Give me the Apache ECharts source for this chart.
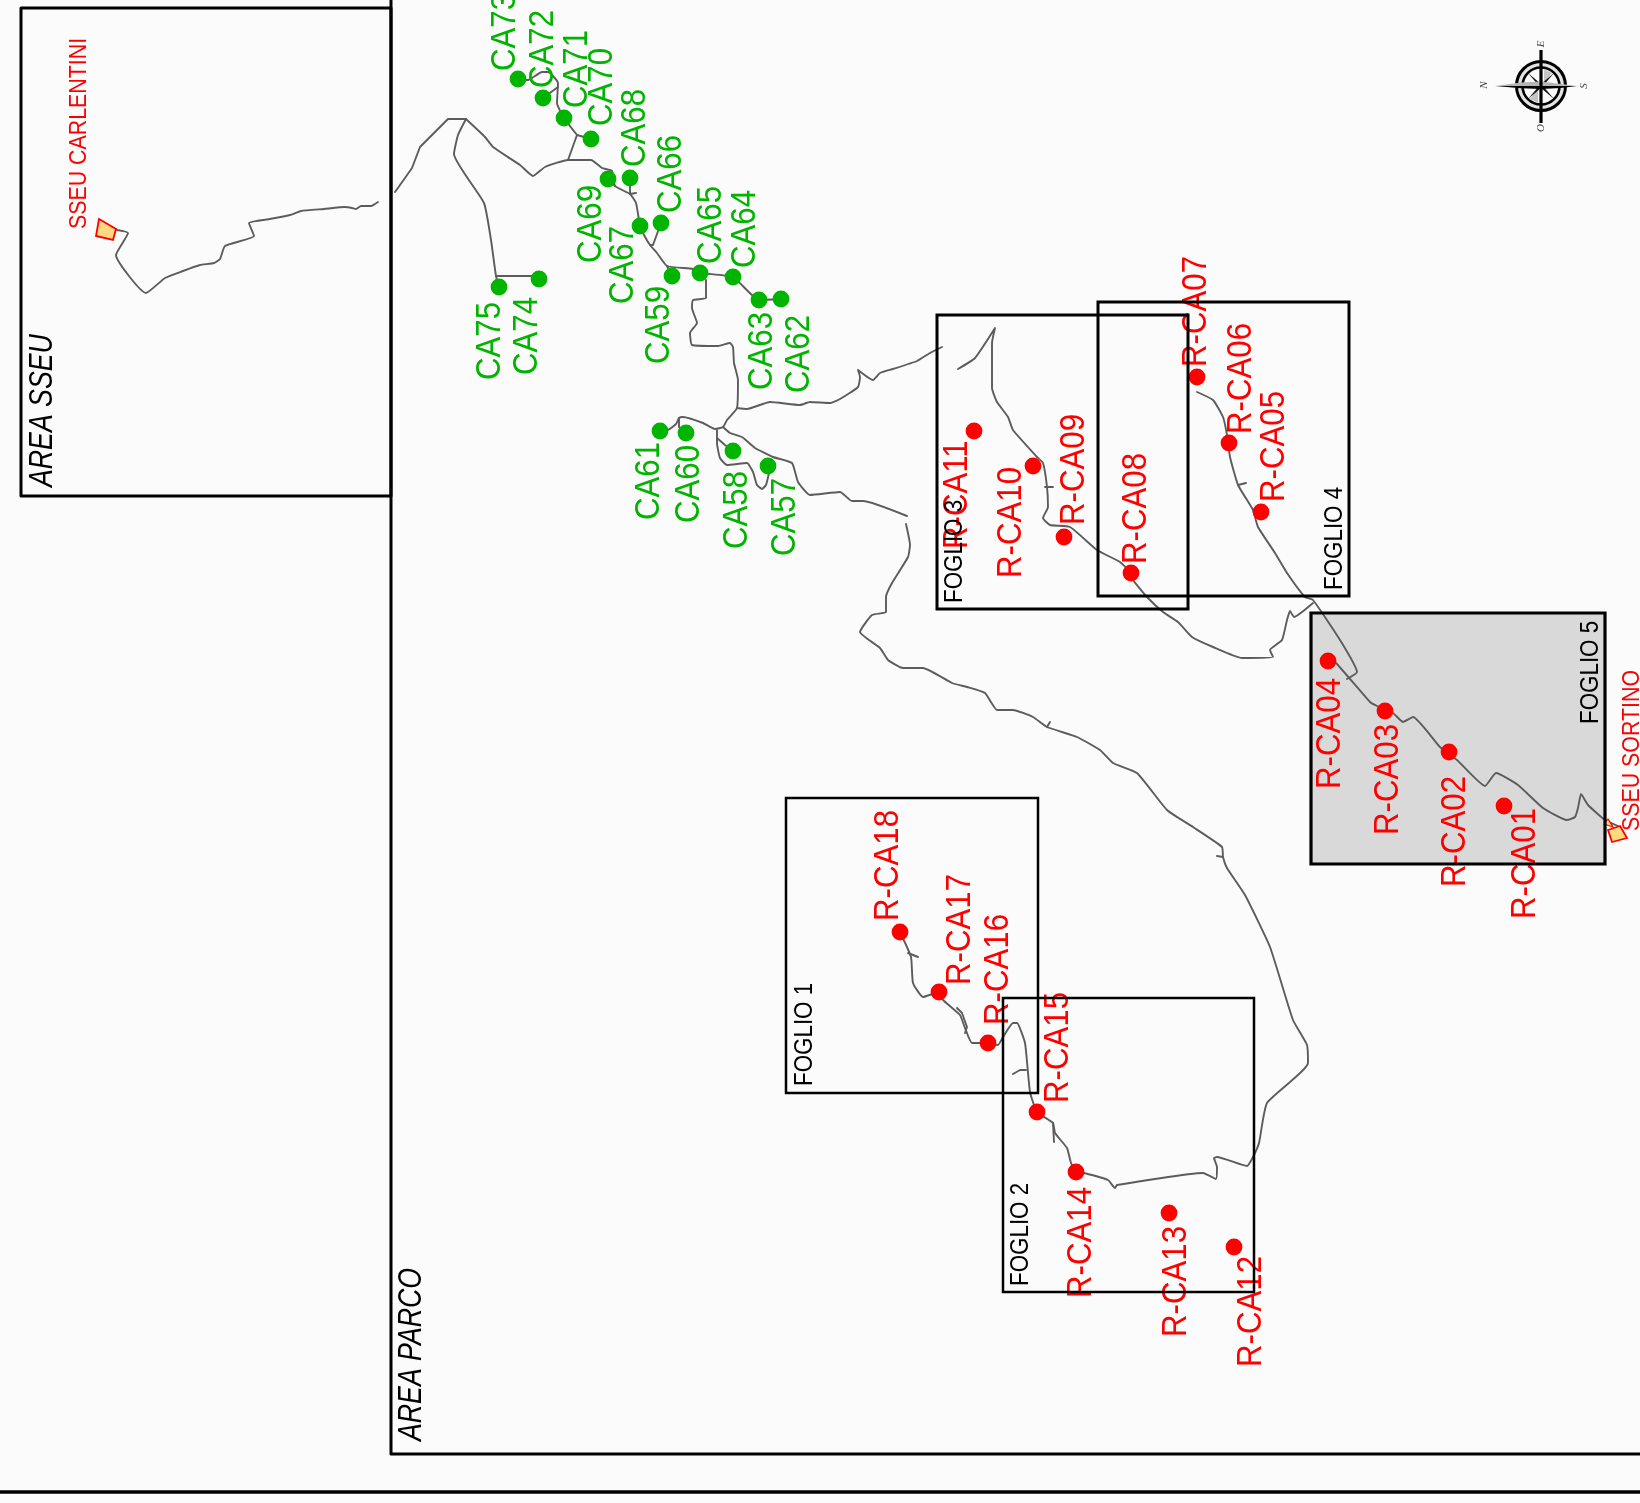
<!DOCTYPE html>
<html>
<head>
<meta charset="utf-8">
<style>html,body{margin:0;padding:0;background:#fbfbfb}#c{width:1640px;height:1503px}</style>
<script src="https://cdn.jsdelivr.net/npm/echarts@6/dist/echarts.min.js"></script>
</head>
<body>
<div id="c"></div>
<script>
// Map values (in map units)
const greenNames = ['CA57','CA58','CA59','CA60','CA61','CA62','CA63','CA64','CA65','CA66','CA67','CA68','CA69','CA70','CA71','CA72','CA73','CA74','CA75'];
const greenX = [768,733,672,686,660,781,759,733,700,661,640,630,608,591,564,543,518,539,499];
const greenY = [466,451,276,433,431,299,300,277,273,223,226,178,179,139,118,98,79,279,287];
const greenLabelX = [783,735,657,687,647,797,760,743,709,669,621,633,589,600,575,541,503,525,488];
const greenLabelY = [554,547,362,521,518,391,388,266,262,211,302,165,261,124,106,86,69,373,378];

const redNames = ['R-CA01','R-CA02','R-CA03','R-CA04','R-CA05','R-CA06','R-CA07','R-CA08','R-CA09','R-CA10','R-CA11','R-CA12','R-CA13','R-CA14','R-CA15','R-CA16','R-CA17','R-CA18'];
const redX = [1504,1449,1385,1328,1261,1229,1197,1131,1064,1033,974,1234,1169,1076,1037,988,939,900];
const redY = [806,752,711,661,512,443,377,573,537,466,431,1247,1213,1172,1112,1043,992,932];
const redLabelX = [1523,1453,1386,1328,1272,1239,1194,1134,1072,1009,955,1249,1174,1079,1056,996,958,886];
const redLabelY = [917,885,833,787,500,432,365,562,523,576,547,1365,1335,1296,1101,1023,983,919];

const sheetNames = ['FOGLIO 1','FOGLIO 2','FOGLIO 3','FOGLIO 4','FOGLIO 5'];
const sheetX0 = [786,1003,937,1098,1311];
const sheetY0 = [798,998,315,302,613];
const sheetX1 = [1038,1254,1188,1349,1605];
const sheetY1 = [1093,1292,609,596,864];
const sheetLabelX = [804,1020,954,1334,1590];
const sheetLabelY = [1085,1285,602,589,723];

const areaNames = ['AREA SSEU','AREA PARCO'];
const areaLabelX = [41,410];
const areaLabelY = [488,1442];
const stationNames = ['SSEU CARLENTINI','SSEU SORTINO'];
const stationLabelX = [78,1631];
const stationLabelY = [227,829];

const stationCarlentini = [[99,219],[116,229],[113,240],[96,236]];
const stationSortino = [[1608,830],[1620,826],[1627,838],[1612,842]];
const stationSortinoFlag = [[1604,824],[1608,819],[1613,827]];

const frameSseu = [[21,8],[391,8],[391,496],[21,496],[21,8]];
const frameParco = [[391,0],[391,1454],[1640,1454]];
const frameBottom = [[0,1492],[1640,1492]];
const compassCentre = [1541,86];

const roadSseu = [[117,230],[128,233],[116,255],[146,293],[165,278],[183,271],[200,265],[214,263],[220,259],[225,246],[254,236],[249,223],[270,219],[290,215],[301,211],[324,209],[345,207],[352,208],[356,209],[361,206],[371,206],[378,202]];
const roadNorthWest = [[395,192],[405,178],[412,168],[420,147],[448,119],[466,119]];
const roadToCA75 = [[466,119],[458,135],[454,154],[484,203],[491,240],[496,276],[499,287]];
const roadToCA74 = [[496,276],[532,276],[539,279]];
const roadMainNorth = [[466,119],[485,137],[493,147],[520,165],[533,176],[545,167],[568,160],[591,160],[602,168],[612,171],[615,186],[630,194],[636,203],[639,220],[640,226],[644,235],[650,245],[657,253],[667,266],[693,269],[700,273],[733,277],[759,300],[781,299]];
const roadToCA69 = [[608,179],[615,186]];
const roadToCA68 = [[630,178],[630,194],[636,193]];
const roadToCA66 = [[661,223],[653,245],[650,245]];
const roadToCA59 = [[667,266],[672,276]];
const roadToCA70 = [[568,160],[577,135],[591,139]];
const roadToCA73 = [[577,135],[564,118],[557,103],[558,83],[548,72],[542,72],[528,80],[518,79]];
const roadToCA72 = [[543,98],[558,87]];
const roadCentre = [[706,280],[706,298],[693,300],[692,308],[697,323],[690,333],[692,345],[718,346],[730,343],[733,347],[734,363],[738,380],[737,408],[727,420],[723,427],[715,429],[703,423],[683,417],[679,418],[676,424],[668,430],[660,431]];
const roadToCA60 = [[679,418],[679,427],[686,433]];
const roadEast = [[737,408],[747,409],[770,402],[800,405],[810,402],[830,403],[840,399],[858,387],[860,377],[858,370],[873,380],[880,373],[893,369],[917,361],[930,353],[942,347]];
const roadToCA57 = [[717,430],[717,443],[720,458],[727,465],[747,463],[753,472],[757,485],[762,489],[766,485],[769,473]];
const roadToCA58 = [[717,438],[725,445],[733,451]];
const roadLowerEast = [[723,427],[730,433],[742,437],[755,448],[773,457],[792,463],[798,482],[810,495],[840,492],[852,501],[863,501],[907,516]];
const roadBigLoop = [[906,524],[910,545],[908,557],[892,583],[886,597],[886,612],[872,615],[860,632],[880,648],[888,660],[903,668],[923,668],[952,683],[967,687],[985,693],[997,710],[1013,710],[1033,717],[1047,727],[1077,737],[1100,750],[1113,763],[1137,773],[1167,810],[1193,827],[1222,847],[1223,857],[1227,868],[1245,895],[1270,947],[1293,1020],[1307,1045],[1308,1063],[1267,1103],[1259,1143],[1253,1157],[1247,1166],[1217,1157],[1214,1158],[1217,1167],[1216,1179],[1203,1173],[1117,1185],[1115,1188],[1108,1180],[1084,1173],[1076,1172],[1071,1163],[1067,1148],[1055,1133],[1053,1123],[1037,1112],[1030,1092],[1025,1043],[1017,1023],[1013,1023],[1003,1037],[998,1045],[988,1043],[972,1043],[965,1028],[960,1015],[943,1000],[939,992],[923,997],[913,983],[911,957],[900,932]];
const spurLoopA = [[1047,727],[1050,722]];
const spurLoopB = [[1223,857],[1217,856]];
const spurLoopC = [[908,953],[918,957]];
const spurLoopD = [[957,1008],[962,1013],[967,1027],[965,1033]];
const spurLoopE = [[1013,1074],[1020,1070],[1026,1070]];
const spurLoopF = [[1054,1142],[1053,1123]];
const roadHook = [[958,369],[975,358],[995,328],[992,343],[992,388],[997,402],[1008,417],[1013,430],[1037,457],[1043,463],[1047,487],[1048,507],[1043,518],[1050,525],[1070,527],[1097,550],[1120,562],[1131,573],[1133,580],[1147,597],[1163,612],[1178,622],[1192,637],[1213,647],[1242,658],[1273,657],[1270,650],[1282,640],[1287,620],[1290,611],[1294,617],[1313,603]];
const spurHook = [[1045,487],[1053,487]];
const roadSouthEast = [[1197,392],[1213,400],[1223,417],[1227,435],[1230,457],[1238,485],[1253,510],[1258,527],[1275,553],[1287,573],[1305,597],[1313,600],[1340,640],[1357,672],[1347,679]];
const spurSouthEast = [[1238,485],[1246,483]];
const roadSortino = [[1328,661],[1335,662],[1370,702],[1377,706],[1393,713],[1403,722],[1413,717],[1440,747],[1457,760],[1485,786],[1496,773],[1518,785],[1543,808],[1567,820],[1575,817],[1578,808],[1581,794],[1588,805],[1605,820],[1618,826]];
const allRoads = [roadSseu,roadNorthWest,roadToCA75,roadToCA74,roadMainNorth,roadToCA69,roadToCA68,roadToCA66,roadToCA59,roadToCA70,roadToCA73,roadToCA72,roadCentre,roadToCA60,roadEast,roadToCA57,roadToCA58,roadLowerEast,roadBigLoop,spurLoopA,spurLoopB,spurLoopC,spurLoopD,spurLoopE,spurLoopF,roadHook,spurHook,roadSouthEast,spurSouthEast,roadSortino];

const FONT = '"Liberation Sans", Arial, sans-serif';
const GREEN = '#00b400', RED = '#ff0000', ROAD = '#5c5c5c';

function lineSeries(points, color, width, z, smooth) {
  return { type:'line', data:points, showSymbol:false, silent:true, animation:false, clip:false, z:z, smooth:smooth||false,
    lineStyle:{color:color,width:width,cap:'round',join:'round'} };
}
function textSeries(names, xs, ys, color, fontSize, scale, italic, z, dx, dy) {
  return { type:'custom', coordinateSystem:'cartesian2d', silent:true, animation:false, clip:false, z:z,
    encode:{x:0,y:1},
    data:names.map((n,i)=>[xs[i],ys[i]]),
    renderItem:(params,api)=>{
      const p = api.coord([api.value(0),api.value(1)]);
      return { type:'text', x:p[0]+dx, y:p[1]+dy, rotation:Math.PI/2, scaleX:scale, scaleY:1,
        style:{ text:names[params.dataIndex], fill:color, font:(italic?'italic ':'')+fontSize+'px '+FONT,
          textAlign:'left', textVerticalAlign:'middle', align:'left', verticalAlign:'middle' } };
    } };
}
function polygonSeries(points, fill, stroke, width, z) {
  return { type:'custom', coordinateSystem:'cartesian2d', silent:true, animation:false, clip:false, z:z,
    encode:{x:0,y:1}, data:points,
    renderItem:(params,api)=>{
      if (params.dataIndex !== 0) return null;
      return { type:'polygon', shape:{points:points.map(v=>api.coord(v))},
        style:{fill:fill,stroke:stroke,lineWidth:width} };
    } };
}
const sheetWidths = [2.5,2.5,3,3,3.2];
function sheetSeries(withFill, z) {
  return { type:'custom', coordinateSystem:'cartesian2d', silent:true, animation:false, clip:false, z:z,
    encode:{x:[0,2],y:[1,3]},
    data:sheetNames.map((n,i)=>[sheetX0[i],sheetY0[i],sheetX1[i],sheetY1[i]]),
    renderItem:(params,api)=>{
      const i = params.dataIndex;
      if (withFill && i !== 4) return null;
      const a = api.coord([api.value(0),api.value(1)]), b = api.coord([api.value(2),api.value(3)]);
      return { type:'rect', shape:{x:a[0],y:a[1],width:b[0]-a[0],height:b[1]-a[1]},
        style: withFill ? {fill:'#d9d9d9',stroke:null} : {fill:'none',stroke:'#000',lineWidth:sheetWidths[i]} };
    } };
}
function compassSeries(z) {
  return { type:'custom', coordinateSystem:'cartesian2d', silent:true, animation:false, clip:false, z:z,
    encode:{x:0,y:1}, data:[compassCentre],
    renderItem:(params,api)=>{
      const p = api.coord([api.value(0),api.value(1)]);
      const poly = (pts,fill)=>({type:'polygon',shape:{points:pts},style:{fill:fill,stroke:null}});
      const ring = (r,w,fill)=>({type:'circle',shape:{cx:0,cy:0,r:r},style:{fill:fill,stroke:'#000',lineWidth:w}});
      const letter = (t,x,y)=>({type:'text',x:x,y:y,rotation:Math.PI/2,
        style:{text:t,fill:'#444',font:'italic 11px "Liberation Serif", serif',textAlign:'center',textVerticalAlign:'middle',align:'center',verticalAlign:'middle'}});
      return { type:'group', x:p[0], y:p[1], children:[
        ring(24.5,3,'#e4e4e4'), ring(18.5,2.6,'#fbfbfb'),
        poly([[3,-3],[3,-17],[11,-13]],'#c4c4c4'), poly([[-3,3],[-3,17],[-11,13]],'#c4c4c4'),
        poly([[0,-2],[-13,-13],[-2,0]],'#111'), poly([[0,-2],[13,-13],[2,0]],'#111'),
        poly([[0,2],[13,13],[2,0]],'#111'), poly([[0,2],[-13,13],[-2,0]],'#111'),
        poly([[-46,0],[-20,-3.5],[0,-4.5],[36,0]],'#b5b5b5'), poly([[-46,0],[-20,2.2],[0,3],[20,2],[36,0]],'#000'),
        poly([[-1.6,-36],[1.6,-36],[1.6,37],[-1.6,37]],'#000'),
        letter('N',-57,-1), letter('S',43,0), letter('E',0,-42), letter('O',0,42)
      ]};
    } };
}
function scatterSeries(xs, ys, color, z) {
  return { type:'scatter', data:xs.map((x,i)=>[x,ys[i]]), symbol:'circle', symbolSize:16.8, silent:true, animation:false, clip:false, z:z,
    itemStyle:{color:color,opacity:1} };
}

const chart = echarts.init(document.getElementById('c'), null, {renderer:'canvas'});
chart.setOption({
  animation:false,
  backgroundColor:'#fbfbfb',
  grid:{left:0,right:0,top:0,bottom:0,containLabel:false},
  xAxis:{type:'value',min:0,max:1640,show:false,scale:true},
  yAxis:{type:'value',min:0,max:1503,inverse:true,show:false,scale:true},
  tooltip:{show:false},
  series:[
    sheetSeries(true,1),
    ...allRoads.map(r=>lineSeries(r,ROAD,1.9,2,r.length>6?0.15:false)),
    polygonSeries(stationCarlentini,'#ffd980',RED,1.8,3),
    polygonSeries(stationSortino,'#ffd980',RED,1.8,3),
    polygonSeries(stationSortinoFlag,'#ffd980',RED,1.2,3),
    scatterSeries(greenX,greenY,GREEN,4),
    scatterSeries(redX,redY,RED,4),
    textSeries(greenNames,greenLabelX,greenLabelY,GREEN,35,0.892,false,5,2,2),
    textSeries(redNames,redLabelX,redLabelY,RED,35,0.892,false,5,2,2),
    textSeries(stationNames,stationLabelX,stationLabelY,RED,24,0.89,false,5,1,2),
    sheetSeries(false,6),
    lineSeries(frameSseu,'#000',3,6),
    lineSeries(frameParco,'#000',3,6),
    lineSeries(frameBottom,'#000',3.4,6),
    textSeries(sheetNames,sheetLabelX,sheetLabelY,'#000',26,0.86,false,7,1,1),
    textSeries(areaNames,areaLabelX,areaLabelY,'#000',34,0.785,true,7,2,-1),
    compassSeries(7)
  ]
});
</script>
</body>
</html>
